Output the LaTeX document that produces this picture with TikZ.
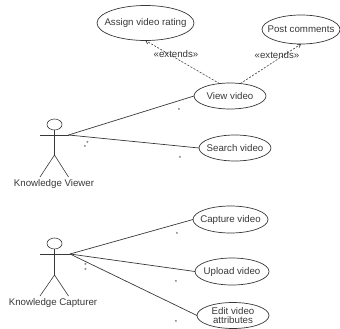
\documentclass[tikz,border=0pt]{standalone}
\usepackage{fontspec}
\setmainfont{Liberation Sans}
\usetikzlibrary{shapes.geometric,arrows.meta}
\definecolor{ink}{gray}{0.22}
\tikzset{
  x=1pt,y=-1pt,
  usecase/.style={ellipse,draw=ink,line width=0.7pt,inner sep=0pt,outer sep=0pt},
  usetext/.style={inner sep=0pt,text=ink,font=\fontsize{9.7}{8.8}\selectfont,align=center},
  label text/.style={inner sep=0pt,text=ink,font=\fontsize{9.7}{10}\selectfont},
  star/.style={inner sep=0pt,text=ink,font=\fontsize{6}{6}\selectfont},
  assoc/.style={draw=ink,line width=0.7pt},
  ext/.style={draw=ink,line width=0.6pt,dashed,dash pattern=on 2pt off 1.5pt,-{Straight Barb[length=3pt,width=4pt]}},
  limb/.style={draw=ink,line width=0.6pt}
}
\begin{document}
\begin{tikzpicture}
\useasboundingbox (0,0) rectangle (340,329);
\node[usecase,minimum width=97pt,minimum height=35pt] (assign) at (145.5,23) {};
\node[usetext] (assignT) at (assign) {Assign video rating};
\node[usecase,minimum width=78pt,minimum height=29pt] (post) at (301,29.5) {};
\node[usetext] (postT) at (post) {Post comments};
\node[usecase,minimum width=72pt,minimum height=26pt] (view) at (230,96) {};
\node[usetext] (viewT) at (view) {View video};
\node[usecase,minimum width=72pt,minimum height=26pt] (search) at (235,148) {};
\node[usetext] (searchT) at (search) {Search video};
\node[usecase,minimum width=75pt,minimum height=27pt] (capture) at (230.5,219.5) {};
\node[usetext] (captureT) at (capture) {Capture video};
\node[usecase,minimum width=74pt,minimum height=27pt] (upload) at (232,271.5) {};
\node[usetext] (uploadT) at (upload) {Upload video};
\node[usecase,minimum width=72pt,minimum height=26pt] (edit) at (233,315.5) {};
\node[usetext] (editT) at (edit) {Edit video\\attributes};
% actor 1
\node[ellipse,draw=ink,line width=0.6pt,minimum width=15pt,minimum height=11pt,inner sep=0pt] (head1) at (54.5,124.5) {};
\coordinate (handL1) at (40,135);
\coordinate (handR1) at (68.5,135);
\coordinate (hip1) at (54.5,155);
\coordinate (footL1) at (40,177);
\coordinate (footR1) at (68.5,177);
\draw[limb] (head1.south) -- (hip1);
\draw[limb] (handL1) -- (handR1);
\draw[limb] (footL1) -- (hip1) -- (footR1);
\node[label text] (kv) at (54,184) {Knowledge Viewer};
% actor 2
\node[ellipse,draw=ink,line width=0.6pt,minimum width=15pt,minimum height=11pt,inner sep=0pt] (head2) at (54.5,243.5) {};
\coordinate (handL2) at (40,254);
\coordinate (handR2) at (70,254);
\coordinate (hip2) at (54.5,275);
\coordinate (footL2) at (40,296);
\coordinate (footR2) at (68.5,296);
\draw[limb] (head2.south) -- (hip2);
\draw[limb] (handL2) -- (handR2);
\draw[limb] (footL2) -- (hip2) -- (footR2);
\node[label text] (kc) at (53,303) {Knowledge Capturer};
% associations
\draw[assoc] (handR1) -- (view.west);
\draw[assoc] (handR1) -- (search.west);
\draw[assoc] (handR2) -- (capture.west);
\draw[assoc] (handR2) -- (upload.west);
\draw[assoc] (handR2) -- (edit.west);
% extends
\draw[ext] (view.130) -- (assign.south);
\draw[ext] (view.50) -- (post.south);
\node[label text] (e1) at (176,54) {«extends»};
\node[label text] (e2) at (277,55.5) {«extends»};
% multiplicities
\node[star] (s1) at (179,110) {*};
\node[star] (s2) at (87.5,143) {*};
\node[star] (s3) at (85,147.5) {*};
\node[star] (s4) at (180,158) {*};
\node[star] (s5) at (177,234) {*};
\node[star] (s6) at (85.5,265) {*};
\node[star] (s7) at (85.5,270) {*};
\node[star] (s8) at (176,282) {*};
\node[star] (s9) at (176,322) {*};
\end{tikzpicture}
\end{document}
